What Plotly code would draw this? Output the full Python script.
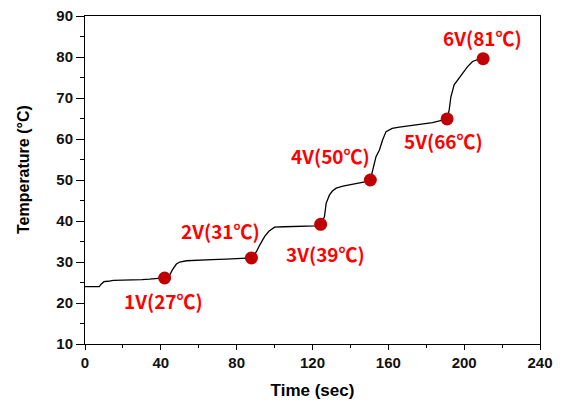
import plotly.graph_objects as go

# Temperature trace (time in sec, temperature in deg C)
time_s = [0, 7.5, 8.5, 10, 12, 15, 20, 25, 30, 34, 38, 42,
          43, 44.7, 46, 48.2, 50, 53.5, 60, 67, 74.6, 80, 85, 87.8,
          89, 90.4, 92, 94.7, 97, 99.1, 100, 105, 110, 116, 121.9, 124.3,
          125.3, 126.3, 127.2, 128.9, 130.5, 132.5, 136, 139.5, 144, 148.3, 150.5,
          151.7, 153.5, 155.3, 157, 158.8, 162, 165.8, 172.8, 178, 183.3, 188.6, 191,
          192.1, 193, 194.7, 197.4, 200, 201.7, 204.4, 207.5, 210]
temp_c = [24.0, 24.0, 24.6, 25.2, 25.3, 25.5, 25.6, 25.6, 25.7, 25.8, 25.9, 26.1,
          26.2, 26.8, 28.0, 29.5, 30.0, 30.3, 30.5, 30.6, 30.7, 30.8, 30.9, 31.0,
          31.6, 32.5, 34.0, 36.2, 37.5, 38.2, 38.5, 38.6, 38.7, 38.7, 38.8, 39.2,
          40.0, 41.0, 44.3, 46.3, 47.3, 48.0, 48.5, 48.8, 49.2, 49.6, 50.0,
          52.4, 55.7, 57.3, 59.8, 61.8, 62.6, 62.9, 63.4, 63.7, 64.0, 64.6, 64.9,
          67.1, 70.3, 73.2, 74.8, 76.4, 77.6, 78.9, 79.4, 79.6]

# Voltage step markers
marker_time = [42, 87.8, 124.3, 150.5, 191, 210]
marker_temp = [26.1, 31.0, 39.2, 50.0, 64.9, 79.6]
marker_labels = ["1V(27℃)", "2V(31℃)", "3V(39℃)", "4V(50℃)", "5V(66℃)", "6V(81℃)"]

# label pixel offsets (style)
label_shift = [(-1, -23), (-31, 27), (5, -29), (-40, 25), (-4, -22), (-1, 21)]

x_ticks = [0, 40, 80, 120, 160, 200, 240]
y_ticks = [10, 20, 30, 40, 50, 60, 70, 80, 90]

fig = go.Figure()
fig.add_trace(go.Scatter(x=time_s, y=temp_c, mode="lines",
                         line=dict(color="black", width=1.3), showlegend=False))
fig.add_trace(go.Scatter(x=marker_time, y=marker_temp, mode="markers",
                         marker=dict(color="#c00000", size=13), showlegend=False))

for xt, yt, lab, (dx, dy) in zip(marker_time, marker_temp, marker_labels, label_shift):
    fig.add_annotation(x=xt, y=yt, text=lab, showarrow=False, xshift=dx, yshift=dy,
                       font=dict(family="Noto Sans CJK KR", size=19, color="#ff0000",
                                 weight="bold"))

axis_common = dict(showline=True, linecolor="black", linewidth=1, mirror=True,
                   ticks="outside", tickcolor="black", showgrid=False, zeroline=False,
                   automargin=False, ticklabeloverflow="allow",
                   tickfont=dict(family="Liberation Sans, Arial", size=15, color="#111111",
                                 weight="bold"))

fig.update_xaxes(range=[0, 240], tickvals=x_ticks, ticklen=5,
                 minor=dict(ticks="outside", ticklen=3, dtick=20, tickcolor="black"),
                 title=dict(text="Time (sec)", standoff=14,
                            font=dict(family="Liberation Sans, Arial", size=17,
                                      color="black", weight="bold")),
                 **axis_common)
fig.update_yaxes(range=[10, 90], tickvals=y_ticks, ticklen=8,
                 minor=dict(ticks="outside", ticklen=4, dtick=5, tickcolor="black"),
                 **axis_common)

fig.add_annotation(x=0, y=0.5, xref="paper", yref="paper", text="Temperature (°C)",
                   textangle=-90, showarrow=False, xanchor="center", yanchor="middle",
                   xshift=-62, yshift=10,
                   font=dict(family="Liberation Sans, Arial", size=16, color="black",
                             weight="bold"))

# page body has an 8px margin, so the figure is offset by (8, 8)
fig.update_layout(width=548, height=394, margin=dict(l=77, r=16, t=8, b=58),
                  plot_bgcolor="white", paper_bgcolor="white")

fig.write_html("out.html")
